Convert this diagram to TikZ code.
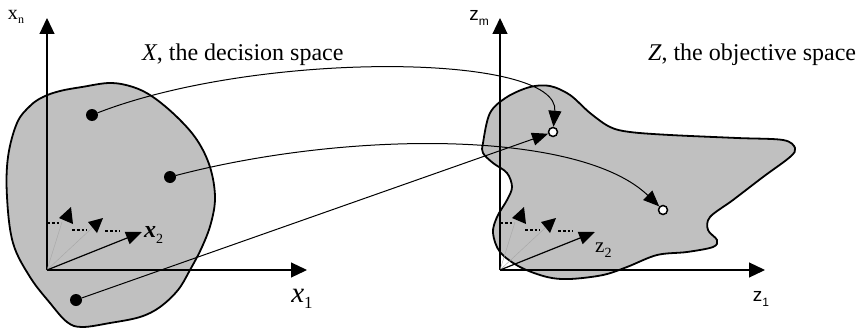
\documentclass[tikz,border=0pt]{standalone}
\usepackage{fontspec}
\setmainfont{Liberation Serif}
\newfontfamily\sansf{Liberation Sans}
\usetikzlibrary{arrows.meta}
\definecolor{blobgray}{RGB}{192,192,192}
\newcommand\lowsub[2]{\raisebox{-0.22em}{\fontsize{#1}{#1}\selectfont #2}}
\begin{document}
\begin{tikzpicture}[x=1pt,y=-1pt,
  blob/.style={fill=blobgray, draw=black, line width=1.8pt},
  axis/.style={line width=1.2pt, -{Triangle[length=16pt,width=15pt]}},
  conn/.style={line width=1pt, -{Triangle[length=16pt,width=13pt]}},
  vec/.style={line width=1.2pt, -{Triangle[length=16pt,width=13pt]}},
  faint/.style={draw=black!35, line width=0.4pt},
  dotl/.style={line width=2.8pt, dash pattern=on 2.8pt off 2pt},
  fdot/.style={circle, fill=black, inner sep=0pt, minimum size=12pt},
  odot/.style={circle, fill=white, draw=black, line width=1.5pt, inner sep=0pt, minimum size=9pt},
  title/.style={anchor=west, inner sep=0pt, font=\fontsize{24}{28}\selectfont},
  ser/.style={inner sep=0pt, font=\fontsize{20}{24}\selectfont},
  san/.style={inner sep=0pt, font=\sansf\fontsize{19}{22}\selectfont}
]
\useasboundingbox (0,0) rectangle (866,329);

% regions
\draw[blob] plot[smooth cycle, tension=0.6] coordinates {
  (43,97) (60,91) (82,87) (110,83) (133,87) (153,97) (177,117) (197,140)
  (210,167) (215,197) (211,223) (202,247) (190,270) (178,290) (160,307)
  (140,317) (110,323) (82,327) (67,322) (50,303) (30,277) (13,243)
  (7,197) (8,157) (17,123) (30,106)};
\draw[blob] plot[smooth cycle, tension=0.55] coordinates {
  (483,143) (490,113) (507,97) (530,87) (550,86) (570,95) (590,113)
  (610,127) (630,132) (670,135) (737,138) (783,140) (795,148) (790,157)
  (763,177) (733,200) (710,217) (708,230) (717,240) (713,247) (687,252)
  (657,255) (627,267) (603,275) (570,279) (547,277) (520,267) (500,252)
  (493,233) (497,217) (507,200) (512,187) (507,173) (493,163) (483,153)};

% axes
\coordinate (o1) at (47,270);
\coordinate (x1e) at (307,270);
\coordinate (xne) at (47,18);
\coordinate (o2) at (500,270);
\coordinate (z1e) at (765,270);
\coordinate (zme) at (500,18);
\draw[axis] (o1) -- (x1e);
\draw[axis] (o1) -- (xne);
\draw[axis] (o2) -- (z1e);
\draw[axis] (o2) -- (zme);

\node[ser] (lxn) at (16,17) {x\lowsub{12}{n}};
\node[san] (lzm) at (479,18) {z\lowsub{12}{m}};
\node[inner sep=0pt, font=\fontsize{29}{33}\selectfont] (lx1) at (302,299) {\textit{x}\lowsub{17}{1}};
\node[san] (lz1) at (761,299) {z\lowsub{12}{1}};

\node[title] (tX) at (142,55) {\textit{X}, the decision space};
\node[title] (tZ) at (648,55) {\textit{Z}, the objective space};

% dimension hints, left
\begin{scope}[shift={(47,270)}]
  \coordinate (lo) at (0,0);
  \coordinate (lg1) at (15,-48);
  \coordinate (lg2) at (45,-42);
  \coordinate (lv) at (95,-38);
  \draw[faint] (lo) -- (lg1);
  \draw[faint] (lo) -- (lg2);
  \fill (12,-52) -- (24,-63) -- (26,-46) -- cycle;
  \fill (41,-48) -- (56,-52) -- (50,-37) -- cycle;
  \draw[dotl] (0,-47) -- (12,-47);
  \draw[dotl] (25,-40) -- (40,-40);
  \draw[dotl] (58,-39) -- (73,-39);
  \draw[vec] (lo) -- (lv);
\end{scope}
\node[anchor=west, inner sep=0pt, font=\fontsize{24}{28}\selectfont] (lx2) at (144,235) {\textbf{\textit{x}}\lowsub{14}{2}};

% dimension hints, right
\begin{scope}[shift={(500,270)}]
  \coordinate (ro) at (0,0);
  \coordinate (rg1) at (15,-48);
  \coordinate (rg2) at (45,-42);
  \coordinate (rv) at (95,-38);
  \draw[faint] (ro) -- (rg1);
  \draw[faint] (ro) -- (rg2);
  \fill (12,-52) -- (24,-63) -- (26,-46) -- cycle;
  \fill (41,-48) -- (56,-52) -- (50,-37) -- cycle;
  \draw[dotl] (0,-47) -- (12,-47);
  \draw[dotl] (25,-40) -- (40,-40);
  \draw[dotl] (58,-39) -- (73,-39);
  \draw[vec] (ro) -- (rv);
\end{scope}
\node[anchor=west, inner sep=0pt, font=\fontsize{21}{25}\selectfont] (lz2) at (595,250) {z\lowsub{14}{2}};

% points
\node[fdot] (d1) at (92,115) {};
\node[fdot] (d2) at (170,177) {};
\node[fdot] (d3) at (76,300) {};
\node[odot] (c1) at (553,132) {};
\node[odot] (c2) at (663,210) {};

% mappings
\draw[conn] (d1) .. controls (260,50) and (560,53) .. (c1);
\draw[conn] (d2) .. controls (350,130) and (580,130) .. (c2);
\draw[conn] (d3) -- (c1);
\end{tikzpicture}
\end{document}
